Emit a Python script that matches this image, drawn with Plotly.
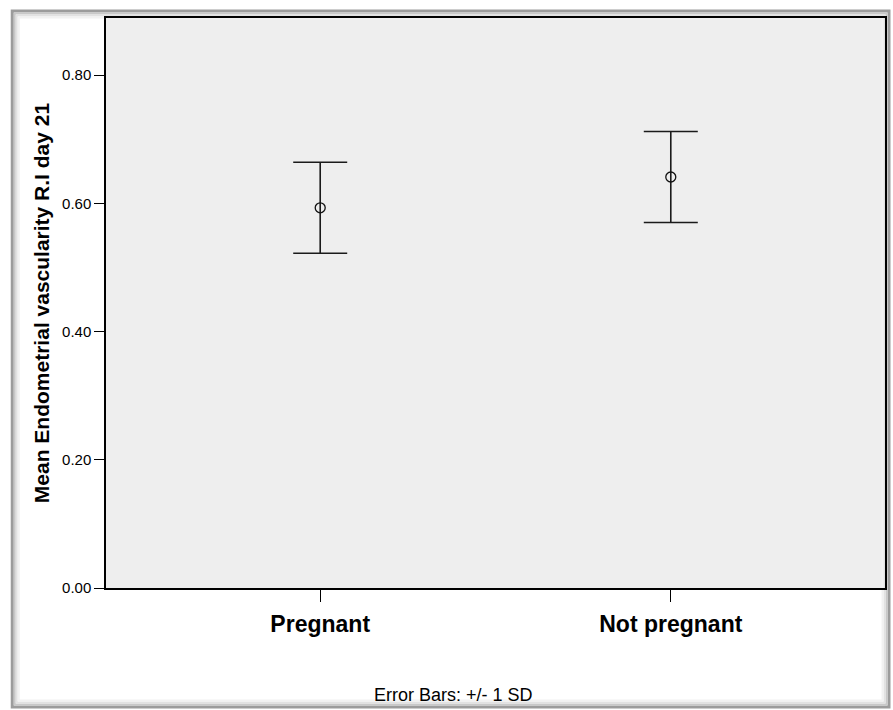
import plotly.graph_objects as go

# ---- data ----
categories = ["Pregnant", "Not pregnant"]
means = [0.593, 0.641]
sds = [0.071, 0.071]
y_ticks = [0.0, 0.2, 0.4, 0.6, 0.8]
y_tick_labels = ["0.00", "0.20", "0.40", "0.60", "0.80"]
y_title = "Mean Endometrial vascularity R.I day 21"
footnote = "Error Bars: +/- 1 SD"

W, H = 893, 710
ML, MR, MT, MB = 106, 6, 18, 122
PW, PH = W - ML - MR, H - MT - MB

def px_x(p):
    return (p - ML) / PW

def px_y(p):
    return (H - MB - p) / PH

FONT = "Arial, Liberation Sans, sans-serif"

fig = go.Figure()
fig.add_trace(go.Scatter(
    x=list(range(len(categories))),
    y=means,
    mode="markers",
    marker=dict(symbol="circle-open", size=10, color="#111111",
                line=dict(width=1.3, color="#111111")),
    error_y=dict(type="data", array=sds, visible=True, width=27,
                 thickness=1.6, color="#1a1a1a"),
    showlegend=False,
    hoverinfo="skip",
))

shapes = []
# outer frame with soft shadow
frames = [
    (12, 11, 891, 707, "#9c9c9c", 3),
    (14.5, 13.5, 888.5, 704.5, "#c8c8c8", 2),
    (16.5, 15.5, 886.5, 702.5, "#e2e2e2", 2),
    (18.5, 17.5, 884.5, 700.5, "#f2f2f2", 2),
]
for x0, y0, x1, y1, c, w in frames:
    shapes.append(dict(type="rect", xref="paper", yref="paper",
                       x0=px_x(x0), x1=px_x(x1), y0=px_y(y1), y1=px_y(y0),
                       line=dict(color=c, width=w), layer="below"))

fig.update_layout(
    width=W, height=H,
    margin=dict(l=ML, r=MR, t=MT, b=MB),
    paper_bgcolor="white",
    plot_bgcolor="#eeeeee",
    font=dict(family=FONT, color="black"),
    shapes=shapes,
    xaxis=dict(
        range=[-0.611, 1.611],
        tickmode="array",
        tickvals=list(range(len(categories))),
        ticktext=categories,
        tickfont=dict(size=23, family=FONT, weight="bold"),
        ticks="outside", ticklen=12, tickwidth=1.3, tickcolor="black",
        ticklabelstandoff=3,
        showline=True, linecolor="black", linewidth=1.5, mirror=True,
        showgrid=False, zeroline=False, fixedrange=True,
    ),
    yaxis=dict(
        range=[0, 0.889],
        tickmode="array",
        tickvals=y_ticks,
        ticktext=y_tick_labels,
        tickfont=dict(size=15, family=FONT),
        ticks="outside", ticklen=10, tickwidth=1.3, tickcolor="black",
        showline=True, linecolor="black", linewidth=1.5, mirror=True,
        showgrid=False, zeroline=False, fixedrange=True,
        title=dict(text=y_title, font=dict(size=21, family=FONT, weight="bold"),
                   standoff=7),
    ),
    annotations=[dict(
        text=footnote, xref="paper", yref="paper",
        x=px_x(454), y=px_y(695), xanchor="center", yanchor="middle",
        showarrow=False, font=dict(size=18, family=FONT, color="black"),
    )],
)

fig.write_html(
    "out.html",
    config={"displayModeBar": False},
    post_script="document.body.style.margin='0';document.body.style.overflow='hidden';",
)
